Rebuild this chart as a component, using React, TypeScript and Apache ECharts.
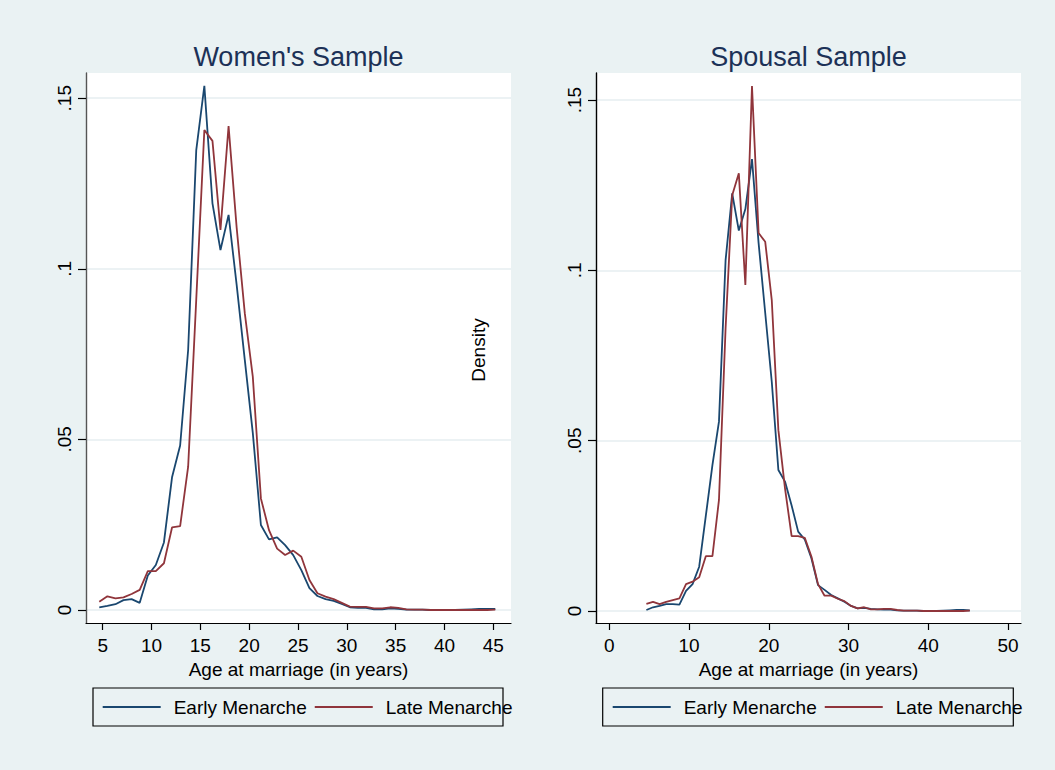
import React, { useEffect, useRef } from 'react';
import * as echarts from 'echarts';

// Evaluation grid of the density estimates (age at marriage, years)
const ages = [4.65, 5.48, 6.31, 7.13, 7.96, 8.79, 9.62, 10.44, 11.27, 12.10, 12.93, 13.75, 14.58, 15.41, 16.24, 17.06, 17.89, 18.72, 19.55, 20.37, 21.20, 22.03, 22.86, 23.68, 24.51, 25.34, 26.17, 26.99, 27.82, 28.65, 29.48, 30.31, 31.13, 31.96, 32.79, 33.62, 34.44, 35.27, 36.10, 36.93, 37.75, 38.58, 39.41, 40.24, 41.06, 41.89, 42.72, 43.55, 44.37, 45.20];

const womenEarly = [0.0008, 0.0012, 0.0017, 0.0029, 0.0032, 0.0021, 0.0101, 0.0132, 0.0198, 0.0389,
  0.0482, 0.0762, 0.1348, 0.1536, 0.1192, 0.1055, 0.1158, 0.0952, 0.0733, 0.0519,
  0.0249, 0.0207, 0.0213, 0.0190, 0.0161, 0.0117, 0.0064, 0.0041, 0.0032, 0.0027,
  0.0018, 0.0008, 0.0006, 0.0006, 0.0002, 0.0002, 0.0005, 0.0003, 0.0001, 0.0001,
  0.0001, 0.0000, 0.0000, 0.0000, 0.0000, 0.0001, 0.0002, 0.0003, 0.0003, 0.0003];

const womenLate = [0.0024, 0.0040, 0.0034, 0.0037, 0.0047, 0.0059, 0.0114, 0.0114, 0.0137, 0.0242,
  0.0246, 0.0420, 0.0910, 0.1407, 0.1375, 0.1114, 0.1418, 0.1120, 0.0870, 0.0684,
  0.0327, 0.0234, 0.0180, 0.0161, 0.0174, 0.0156, 0.0088, 0.0049, 0.0039, 0.0032,
  0.0021, 0.0010, 0.0009, 0.0009, 0.0005, 0.0005, 0.0008, 0.0006, 0.0002, 0.0001,
  0.0001, 0.0000, 0.0000, 0.0000, 0.0000, 0.0000, 0.0000, 0.0000, 0.0000, 0.0001];

const spouseEarly = [0.0003, 0.0011, 0.0015, 0.0020, 0.0020, 0.0019, 0.0059, 0.0079, 0.0130, 0.0279,
  0.0428, 0.0556, 0.1030, 0.1226, 0.1117, 0.1180, 0.1327, 0.1080, 0.0875, 0.0673,
  0.0414, 0.0380, 0.0310, 0.0233, 0.0210, 0.0155, 0.0076, 0.0062, 0.0047, 0.0037,
  0.0027, 0.0015, 0.0008, 0.0009, 0.0006, 0.0005, 0.0004, 0.0004, 0.0002, 0.0001,
  0.0001, 0.0001, 0.0000, 0.0000, 0.0000, 0.0001, 0.0002, 0.0003, 0.0003, 0.0002];

const spouseLate = [0.0021, 0.0027, 0.0020, 0.0027, 0.0032, 0.0037, 0.0079, 0.0086, 0.0099, 0.0161,
  0.0161, 0.0326, 0.0830, 0.1221, 0.1285, 0.0957, 0.1541, 0.1110, 0.1084, 0.0913,
  0.0531, 0.0360, 0.0220, 0.0220, 0.0215, 0.0160, 0.0079, 0.0045, 0.0045, 0.0036,
  0.0029, 0.0015, 0.0008, 0.0011, 0.0005, 0.0005, 0.0006, 0.0006, 0.0003, 0.0001,
  0.0001, 0.0001, 0.0000, 0.0000, 0.0000, 0.0000, 0.0000, 0.0000, 0.0000, 0.0001];

const xTicksWomen = [5, 10, 15, 20, 25, 30, 35, 40, 45];
const xTicksSpouse = [0, 10, 20, 30, 40, 50];
const yTicks = [0, 0.05, 0.1, 0.15];
const seriesNames = ['Early Menarche', 'Late Menarche'];
const panelTitles = ["Women's Sample", 'Spousal Sample'];
const xTitle = 'Age at marriage (in years)';
const yTitle = 'Density';

export default function App() {
  const ref = useRef<HTMLDivElement>(null);

  useEffect(() => {
    document.body.style.margin = '0';
    const chart = echarts.init(ref.current as HTMLDivElement, null, { renderer: 'svg' });
    const font = '"Liberation Sans", Arial, Helvetica, sans-serif';
    const navy = '#1a476f';
    const maroon = '#90353b';
    const bg = '#eaf2f3';
    const fmtY = (v: number) => {
      const s = String(Math.round(v * 100) / 100);
      return s.startsWith('0.') ? s.slice(1) : s;
    };
    const pairs = (vals: number[]) => ages.map((a, i) => [a, vals[i]]);

    const mkX = (gridIndex: number, min: number, max: number, ticks: number[]) => ({
      type: 'value',
      gridIndex,
      min,
      max,
      axisLine: { show: true, onZero: false, lineStyle: { color: '#000', width: 1.2 } },
      axisTick: { show: true, length: 7, customValues: ticks, lineStyle: { color: '#000', width: 1.2 } },
      axisLabel: { customValues: ticks, fontSize: 19, color: '#000', margin: 13, fontFamily: font },
      splitLine: { show: false },
      name: xTitle,
      nameLocation: 'middle',
      nameGap: 34,
      nameTextStyle: { fontSize: 19, color: '#000', fontFamily: font },
    });
    const mkY = (gridIndex: number, min: number, max: number, margin: number, axisColor: string) => ({
      type: 'value',
      gridIndex,
      min,
      max,
      axisLine: { show: true, onZero: false, lineStyle: { color: axisColor, width: 1.4 } },
      axisTick: { show: true, length: 8, customValues: yTicks, lineStyle: { color: '#000', width: 1.2 } },
      axisLabel: {
        customValues: yTicks,
        rotate: 90,
        fontSize: 19,
        color: '#000',
        margin,
        fontFamily: font,
        formatter: fmtY,
      },
      splitLine: { show: true, lineStyle: { color: '#e6eef0', width: 1.6 } },
    });
    const mkLegend = (left: number) => ({
      left,
      top: 696,
      padding: 0,
      orient: 'horizontal',
      data: seriesNames,
      itemWidth: 58,
      itemHeight: 14,
      itemGap: 7,
      selectedMode: false,
      itemStyle: { opacity: 0 },
      textStyle: { fontSize: 19, color: '#000', fontFamily: font, lineHeight: 22, padding: [0, 0, 0, 8] },
    });
    const mkLine = (name: string, vals: number[], idx: number, color: string) => ({
      type: 'line',
      name,
      xAxisIndex: idx,
      yAxisIndex: idx,
      data: pairs(vals),
      symbol: 'none',
      lineStyle: { color, width: 1.8 },
      itemStyle: { color },
    });

    chart.setOption({
      animation: false,
      backgroundColor: bg,
      grid: [
        { left: 86, top: 73, width: 425, height: 550, show: true, backgroundColor: '#fff', borderWidth: 0 },
        { left: 596, top: 73, width: 425, height: 550, show: true, backgroundColor: '#fff', borderWidth: 0 },
      ],
      xAxis: [mkX(0, 3.29, 46.81, xTicksWomen), mkX(1, -1.668, 51.62, xTicksSpouse)],
      yAxis: [mkY(0, -0.00381, 0.15739, 12, '#555'), mkY(1, -0.00352, 0.15796, 12, '#000')],
      legend: [mkLegend(101.7), mkLegend(611.7)],
      series: [
        mkLine(seriesNames[0], womenEarly, 0, navy),
        mkLine(seriesNames[1], womenLate, 0, maroon),
        mkLine(seriesNames[0], spouseEarly, 1, navy),
        mkLine(seriesNames[1], spouseLate, 1, maroon),
      ],
      graphic: [
        {
          type: 'text', x: 298.5, y: 57, z: 10,
          style: { text: panelTitles[0], align: 'center', verticalAlign: 'middle', fontSize: 27, fontFamily: font, fill: '#1c3157' },
        },
        {
          type: 'text', x: 808.5, y: 57, z: 10,
          style: { text: panelTitles[1], align: 'center', verticalAlign: 'middle', fontSize: 27, fontFamily: font, fill: '#1c3157' },
        },
        {
          type: 'text', x: 478.5, y: 350, rotation: Math.PI / 2, z: 10,
          style: { text: yTitle, align: 'center', verticalAlign: 'middle', fontSize: 19, fontFamily: font, fill: '#000' },
        },
        {
          type: 'rect', z: 1,
          shape: { x: 93, y: 688, width: 410, height: 38 },
          style: { fill: 'none', stroke: '#000', lineWidth: 1.2 },
        },
        {
          type: 'rect', z: 1,
          shape: { x: 602.7, y: 688, width: 410.6, height: 38 },
          style: { fill: 'none', stroke: '#000', lineWidth: 1.2 },
        },
      ],
    });
    return () => chart.dispose();
  }, []);

  return <div ref={ref} style={{ width: 1055, height: 770 }} />;
}
